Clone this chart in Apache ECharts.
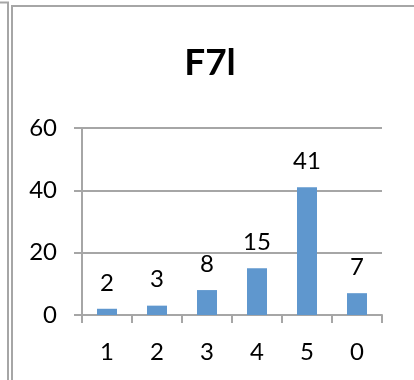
<!DOCTYPE html>
<html>
<head>
<meta charset="utf-8">
<script src="https://cdn.jsdelivr.net/npm/echarts@6/dist/echarts.min.js"></script>
<style>
  html, body { margin: 0; padding: 0; background: #fff; }
  #chart { width: 414px; height: 380px; }
</style>
</head>
<body>
<div id="chart"></div>
<script>
// Response counts per answer option
const chartTitle = 'F7l';
const categories = ['1', '2', '3', '4', '5', '0'];
const counts = [2, 3, 8, 15, 41, 7];
const yTicks = { min: 0, max: 60, interval: 20 };

const barColor = '#5f97ce';
const lineColor = '#a6a6a6';
const textFont = 'Lato';

const chart = echarts.init(document.getElementById('chart'), null, { renderer: 'canvas' });

chart.setOption({
  animation: false,
  backgroundColor: '#ffffff',
  graphic: [
    // frame of the neighbouring chart on the left
    { type: 'polyline', shape: { points: [[0, 2.5], [8, 2.5], [8, 380]] },
      style: { stroke: lineColor, lineWidth: 2, fill: null }, silent: true },
    // chart frame
    { type: 'polyline', shape: { points: [[12, 380], [12, 6], [414, 6]] },
      style: { stroke: lineColor, lineWidth: 2, fill: null }, silent: true },
    { type: 'text', x: 210, y: 63,
      style: { text: chartTitle, fontFamily: textFont, fontWeight: 'bold', fontSize: 37,
               fill: '#000', textAlign: 'center', textVerticalAlign: 'middle' } }
  ],
  grid: { left: 82, right: 32, top: 128, bottom: 65, containLabel: false },
  xAxis: {
    type: 'category',
    data: categories,
    axisLine: { lineStyle: { color: lineColor, width: 2 } },
    axisTick: { show: true, length: 8, alignWithLabel: false, lineStyle: { color: lineColor, width: 2 } },
    axisLabel: { color: '#000', fontFamily: textFont, fontSize: 24, margin: 25 },
    splitLine: { show: false }
  },
  yAxis: {
    type: 'value',
    min: yTicks.min, max: yTicks.max, interval: yTicks.interval,
    axisLine: { show: true, lineStyle: { color: lineColor, width: 2 } },
    axisTick: { show: true, length: 8, lineStyle: { color: lineColor, width: 2 } },
    axisLabel: { color: '#000', fontFamily: textFont, fontSize: 24, margin: 25, padding: [6, 0, 0, 0] },
    splitLine: { show: true, lineStyle: { color: lineColor, width: 2 } }
  },
  series: [{
    type: 'bar',
    data: counts,
    barWidth: 20,
    itemStyle: { color: barColor },
    label: { show: true, position: 'top', distance: 14, color: '#000',
             fontFamily: textFont, fontSize: 24 }
  }]
});
</script>
</body>
</html>
